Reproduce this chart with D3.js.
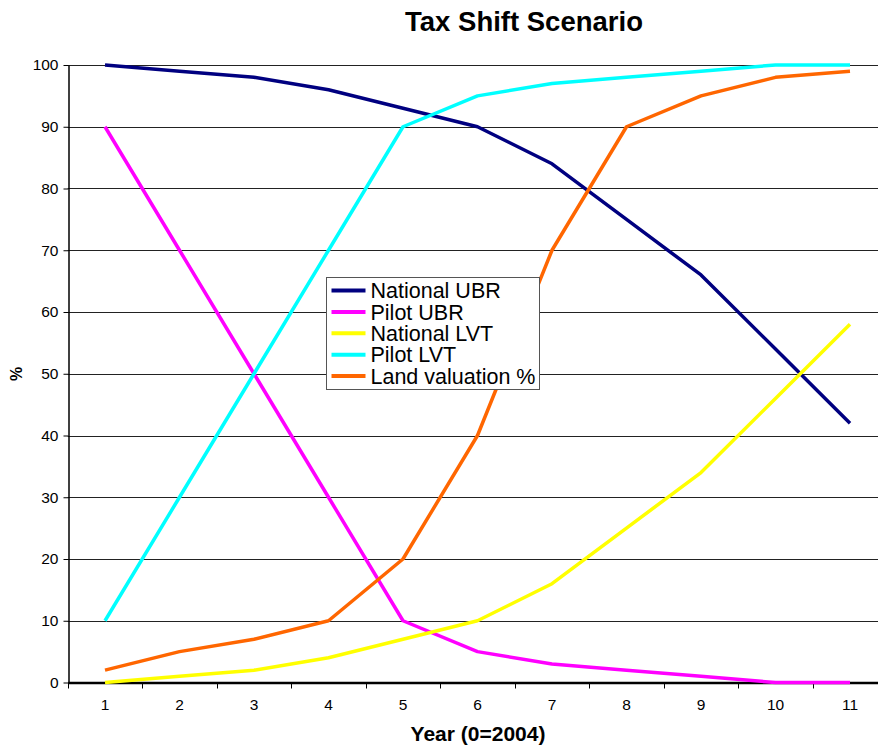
<!DOCTYPE html>
<html>
<head>
<meta charset="utf-8">
<script src="https://cdn.jsdelivr.net/npm/d3@7/dist/d3.min.js"></script>
<style>
  html, body { margin: 0; padding: 0; background: #fff; }
  svg { display: block; font-family: "Liberation Sans", Arial, sans-serif; }
</style>
</head>
<body>
<svg id="chart" width="878" height="746"></svg>
<script>
// Years since 2004
const years = [1, 2, 3, 4, 5, 6, 7, 8, 9, 10, 11];

// Share (%) per year for each series
const nationalUBR = [100, 99, 98, 96, 93, 90, 84, 75, 66, 54, 42];
const pilotUBR    = [90, 70, 50, 30, 10, 5, 3, 2, 1, 0, 0];
const nationalLVT = [0, 1, 2, 4, 7, 10, 16, 25, 34, 46, 58];
const pilotLVT    = [10, 30, 50, 70, 90, 95, 97, 98, 99, 100, 100];
const landValuation = [2, 5, 7, 10, 20, 40, 70, 90, 95, 98, 99];

const seriesNames = ["National UBR", "Pilot UBR", "National LVT", "Pilot LVT", "Land valuation %"];
const seriesColors = ["#000080", "#FF00FF", "#FFFF00", "#00FFFF", "#FF6600"];
const yTicks = [0, 10, 20, 30, 40, 50, 60, 70, 80, 90, 100];

const series = [nationalUBR, pilotUBR, nationalLVT, pilotLVT, landValuation].map((vals, i) => ({
  name: seriesNames[i],
  color: seriesColors[i],
  values: vals.map((v, j) => ({ year: years[j], value: v }))
}));

const svg = d3.select("#chart");

const plot = { left: 67.75, right: 887.25, top: 65, bottom: 682.5 };

const x = d3.scaleBand()
  .domain(years)
  .range([plot.left, plot.right])
  .padding(0);

const y = d3.scaleLinear()
  .domain([0, 100])
  .range([plot.bottom, plot.top]);

const xc = d => x(d) + x.bandwidth() / 2;

// Title
svg.append("text")
  .attr("x", 524)
  .attr("y", 31)
  .attr("text-anchor", "middle")
  .attr("font-size", 27.5)
  .attr("font-weight", "bold")
  .attr("fill", "#000")
  .text("Tax Shift Scenario");

// Horizontal gridlines
svg.append("g")
  .selectAll("line")
  .data(yTicks.filter(t => t > 0))
  .join("line")
  .attr("x1", plot.left)
  .attr("x2", plot.right)
  .attr("y1", d => Math.round(y(d)) + 0.5)
  .attr("y2", d => Math.round(y(d)) + 0.5)
  .attr("stroke", "#222")
  .attr("stroke-width", 1);

// Y axis
const yAxis = svg.append("g")
  .attr("transform", `translate(${Math.round(plot.left) + 0.5},0)`)
  .call(d3.axisLeft(y).tickValues(yTicks).tickSize(5).tickPadding(5).tickSizeOuter(0));
yAxis.select(".domain").attr("stroke", "#000").attr("stroke-width", 1.5);
yAxis.selectAll(".tick line").attr("stroke", "#000");
yAxis.selectAll(".tick text")
  .attr("font-size", 15.5)
  .attr("font-family", "Liberation Sans, Arial, sans-serif")
  .attr("fill", "#000");

// X axis: labels centred on categories, tick marks between categories
const xAxis = svg.append("g")
  .attr("transform", `translate(0,${plot.bottom})`)
  .call(d3.axisBottom(x).tickSize(0).tickPadding(16).tickSizeOuter(0));
xAxis.select(".domain").attr("stroke", "#000").attr("stroke-width", 2.5);
xAxis.selectAll(".tick text")
  .attr("font-size", 15.5)
  .attr("font-family", "Liberation Sans, Arial, sans-serif")
  .attr("fill", "#000");

svg.append("g")
  .selectAll("line")
  .data(years)
  .join("line")
  .attr("x1", d => Math.round(x(d)) + 0.5)
  .attr("x2", d => Math.round(x(d)) + 0.5)
  .attr("y1", plot.bottom)
  .attr("y2", plot.bottom + 6)
  .attr("stroke", "#000")
  .attr("stroke-width", 1);

// Axis titles
svg.append("text")
  .attr("x", 478)
  .attr("y", 740.5)
  .attr("text-anchor", "middle")
  .attr("font-size", 21)
  .attr("font-weight", "bold")
  .text("Year (0=2004)");

svg.append("text")
  .attr("transform", "translate(22,374) rotate(-90)")
  .attr("text-anchor", "middle")
  .attr("font-size", 16)
  .attr("font-weight", "bold")
  .text("%");

// Series lines
const line = d3.line()
  .x(d => xc(d.year))
  .y(d => y(d.value));

svg.append("g")
  .selectAll("path")
  .data(series)
  .join("path")
  .attr("d", d => line(d.values))
  .attr("fill", "none")
  .attr("stroke", d => d.color)
  .attr("stroke-width", 3.5)
  .attr("stroke-linejoin", "round")
  .attr("stroke-linecap", "butt");

// Legend
const legend = svg.append("g").attr("transform", "translate(326.5,277.5)");
legend.append("rect")
  .attr("width", 213)
  .attr("height", 112)
  .attr("fill", "#fff")
  .attr("stroke", "#555")
  .attr("stroke-width", 1);

const rows = legend.selectAll("g.row")
  .data(series)
  .join("g")
  .attr("class", "row")
  .attr("transform", (d, i) => `translate(0,${13 + i * 21.4})`);

rows.append("line")
  .attr("x1", 5)
  .attr("x2", 39)
  .attr("stroke", d => d.color)
  .attr("stroke-width", 4);

rows.append("text")
  .attr("x", 44)
  .attr("y", 0)
  .attr("dy", "0.36em")
  .attr("font-size", 21.5)
  .attr("fill", "#000")
  .text(d => d.name);
</script>
</body>
</html>
